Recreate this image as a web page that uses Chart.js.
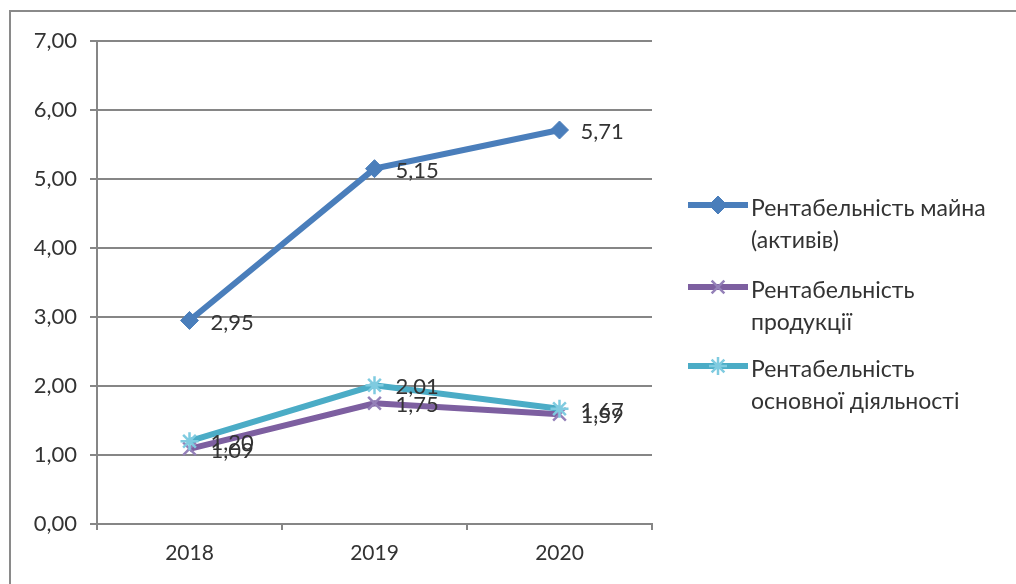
<!DOCTYPE html>
<html>
<head>
<meta charset="utf-8">
<script src="https://cdn.jsdelivr.net/npm/chart.js@4.4.1/dist/chart.umd.min.js"></script>
<style>
	body { margin: 0; background: #fff; }
	.frame { position: absolute; left: 9px; top: 10px; width: 1100px; height: 700px; border: 2px solid #8a8a8a; }
	.wrap { position: absolute; left: 0; top: 0; width: 1016px; height: 584px; }
</style>
</head>
<body>
<div class="frame"></div>
<div class="wrap"><canvas id="chart" width="1016" height="584"></canvas></div>
<script>
const years = ["2018", "2019", "2020"];

const assetsReturn = [2.95, 5.15, 5.71];
const productReturn = [1.09, 1.75, 1.59];
const operatingReturn = [1.2, 2.01, 1.67];

// legend text, already split into lines
const legendLines = [
	["Рентабельність майна", "(активів)"],
	["Рентабельність", "продукції"],
	["Рентабельність", "основної діяльності"],
];

const lineColors = ["#4A7EBB", "#7D5FA0", "#4BACC6"];
const markerColors = ["#4A7EBB", "#9480B8", "#7FCBE0"];

const FONT = "Lato, 'Open Sans', sans-serif";
const TEXT = "#333333";
const GRID = "#868686";

const fmt = (v) => v.toFixed(2).replace(".", ",");

// value labels to the right of each point
const valueLabels = {
	id: "valueLabels",
	afterDatasetsDraw(chart) {
		const ctx = chart.ctx;
		ctx.save();
		ctx.font = "22px " + FONT;
		ctx.fillStyle = TEXT;
		ctx.textAlign = "left";
		ctx.textBaseline = "middle";
		chart.data.datasets.forEach((ds, i) => {
			chart.getDatasetMeta(i).data.forEach((pt, j) => {
				ctx.fillText(fmt(ds.data[j]), pt.x + 21, pt.y + 2);
			});
		});
		ctx.restore();
	},
};

// legend on the right, with wrapped names
const sideLegend = {
	id: "sideLegend",
	afterDraw(chart) {
		const ctx = chart.ctx;
		const rows = [205, 287, 366];
		ctx.save();
		chart.data.datasets.forEach((ds, i) => {
			const y = rows[i];
			ctx.strokeStyle = lineColors[i];
			ctx.lineWidth = 6;
			ctx.beginPath();
			ctx.moveTo(688, y);
			ctx.lineTo(748, y);
			ctx.stroke();

			ctx.fillStyle = markerColors[i];
			ctx.strokeStyle = markerColors[i];
			ctx.lineWidth = ds.pointBorderWidth;
			Chart.helpers.drawPoint(ctx, {
				pointStyle: ds.pointStyle,
				radius: ds.pointRadius,
				borderWidth: ds.pointBorderWidth,
				rotation: 0,
			}, 718, y);

			ctx.font = "23px " + FONT;
			ctx.fillStyle = TEXT;
			ctx.textAlign = "left";
			ctx.textBaseline = "middle";
			legendLines[i].forEach((line, k) => {
				ctx.fillText(line, 751, y + 4 + k * 32);
			});
		});
		ctx.restore();
	},
};

const makeSeries = (i, data, style, width) => ({
	label: legendLines[i].join(" "),
	data: data,
	borderColor: lineColors[i],
	backgroundColor: markerColors[i],
	pointBorderColor: markerColors[i],
	pointBackgroundColor: markerColors[i],
	borderWidth: 6,
	pointStyle: style,
	pointRadius: 9,
	pointBorderWidth: width,
	tension: 0,
	order: 3 - i,
});

new Chart(document.getElementById("chart"), {
	type: "line",
	data: {
		labels: years,
		datasets: [
			makeSeries(0, assetsReturn, "rectRot", 1),
			makeSeries(1, productReturn, "crossRot", 2.5),
			makeSeries(2, operatingReturn, "star", 2.5),
		],
	},
	options: {
		responsive: false,
		animation: false,
		layout: { padding: { left: 0, right: 364, top: 41, bottom: 0 } },
		plugins: {
			legend: { display: false },
			tooltip: { enabled: false },
		},
		scales: {
			x: {
				offset: true,
				afterFit: (s) => { s.height = 60; },
				grid: { offset: true, drawOnChartArea: false, tickLength: 6, color: GRID, lineWidth: 2 },
				border: { color: GRID, width: 2 },
				ticks: { font: { family: FONT, size: 21 }, color: TEXT, padding: 11 },
			},
			y: {
				min: 0,
				max: 7,
				afterFit: (s) => { s.width = 97; },
				grid: { color: GRID, lineWidth: 2, tickLength: 7 },
				border: { color: GRID, width: 2 },
				ticks: {
					stepSize: 1,
					font: { family: FONT, size: 22 },
					color: TEXT,
					padding: 13,
					callback: (v) => fmt(v),
				},
			},
		},
	},
	plugins: [valueLabels, sideLegend],
});
</script>
</body>
</html>
